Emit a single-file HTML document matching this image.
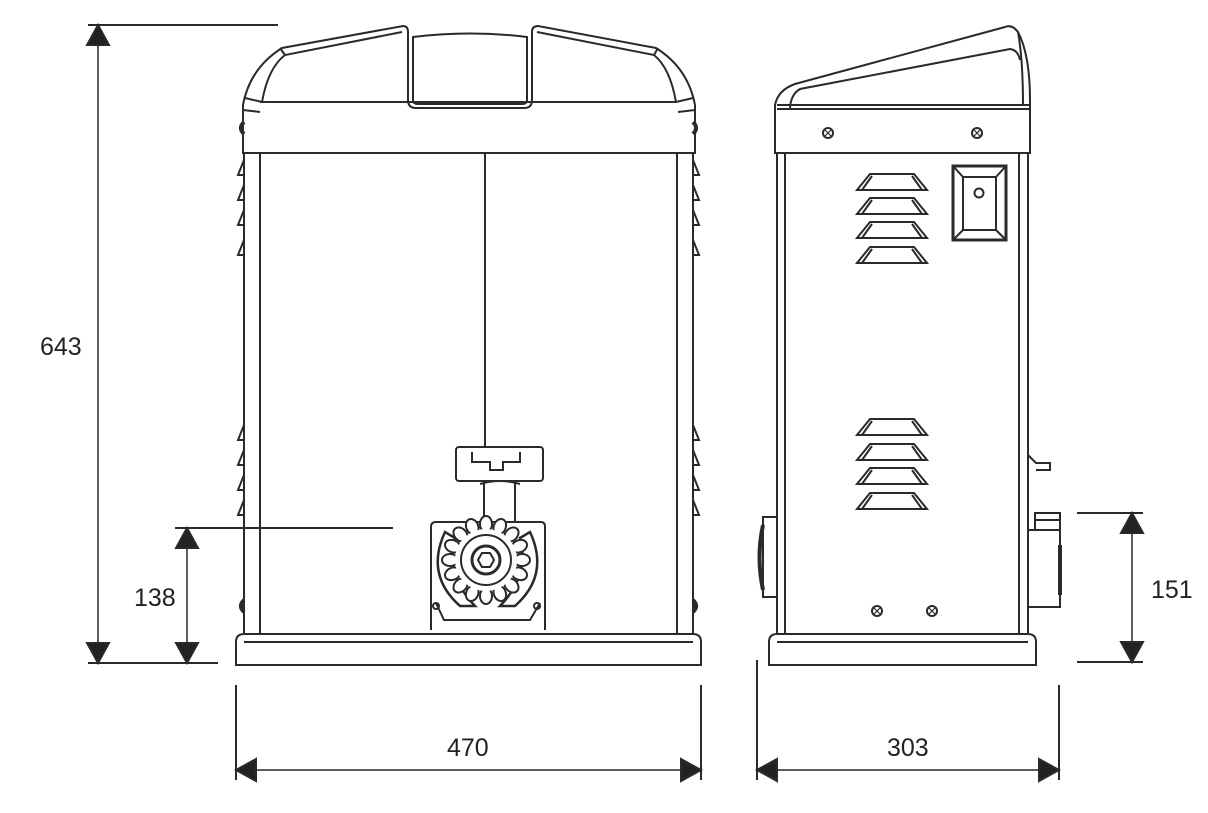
<!DOCTYPE html>
<html><head><meta charset="utf-8"><style>
html,body{margin:0;padding:0;background:#fff;}
svg{display:block}
text{font-family:"Liberation Sans",sans-serif;font-size:25px;fill:#222}
</style></head><body>
<svg width="1208" height="813" viewBox="0 0 1208 813" xmlns="http://www.w3.org/2000/svg">
<g stroke="#2a2a2a" stroke-width="2" fill="none">
<!-- dimension lines -->
<line x1="88" y1="25" x2="278" y2="25"/>
<line x1="88" y1="663" x2="218" y2="663"/>
<path d="M98,27 L98,661" stroke-width="1.5"/>
<path d="M87,45 L98,25 L109,45 Z M87,643 L98,663 L109,643 Z" fill="#222"/>
<line x1="175" y1="528" x2="393" y2="528"/>
<path d="M187,530 L187,661" stroke-width="1.5"/>
<path d="M176,548 L187,528 L198,548 Z M176,643 L187,663 L198,643 Z" fill="#222"/>
<line x1="236" y1="685" x2="236" y2="780"/>
<line x1="701" y1="685" x2="701" y2="780"/>
<line x1="238" y1="770" x2="699" y2="770" stroke-width="1.5"/>
<path d="M256,759 L236,770 L256,781 Z M681,759 L701,770 L681,781 Z" fill="#222"/>
<line x1="757" y1="660" x2="757" y2="780"/>
<line x1="1059" y1="685" x2="1059" y2="780"/>
<line x1="759" y1="770" x2="1057" y2="770" stroke-width="1.5"/>
<path d="M777,759 L757,770 L777,781 Z M1039,759 L1059,770 L1039,781 Z" fill="#222"/>
<line x1="1077" y1="513" x2="1143" y2="513"/>
<line x1="1077" y1="662" x2="1143" y2="662"/>
<line x1="1132" y1="515" x2="1132" y2="660" stroke-width="1.5"/>
<path d="M1121,533 L1132,513 L1143,533 Z M1121,642 L1132,662 L1143,642 Z" fill="#222"/>

<!-- FRONT VIEW -->
<path d="M236,665 L236,642 Q236,634 244,634 L693,634 Q701,634 701,642 L701,665 Z"/>
<line x1="244" y1="642" x2="693" y2="642"/>
<line x1="244" y1="153" x2="244" y2="634"/>
<line x1="260" y1="153" x2="260" y2="634"/>
<line x1="693" y1="153" x2="693" y2="634"/>
<line x1="677" y1="153" x2="677" y2="634"/>
<path d="M243,153 L243,105 Q250,68 282,48 L403,26 Q408,26 408,32 L408,100 Q408,108 416,108 L524,108 Q532,108 532,100 L532,32 Q532,26 538,26 L656,48 Q688,68 695,105 L695,153 Z"/>
<line x1="260" y1="102" x2="676" y2="102"/>
<path d="M262,102 Q268,68 285,55 L402,32 M676,102 Q670,68 654,55 L537,32"/>
<path d="M413,37 Q470,30 527,37 L527,100 Q527,104 522,104 L418,104 Q413,104 413,100 Z"/>
<path d="M243,110 L260,112 M245,98 L262,102 M280,48 L285,55 M658,48 L654,55 M695,110 L678,112 M693,98 L676,102"/>
<line x1="485" y1="153" x2="485" y2="447"/>
<path d="M244,160 L238,175 L244,175 M244,185 L238,200 L244,200 M244,210 L238,225 L244,225 M244,240 L238,255 L244,255 M244,425 L238,440 L244,440 M244,450 L238,465 L244,465 M244,475 L238,490 L244,490 M244,500 L238,515 L244,515"/>
<path d="M693,160 L699,175 L693,175 M693,185 L699,200 L693,200 M693,210 L699,225 L693,225 M693,240 L699,255 L693,255 M693,425 L699,440 L693,440 M693,450 L699,465 L693,465 M693,475 L699,490 L693,490 M693,500 L699,515 L693,515"/>
<!-- gear assembly -->
<rect x="456" y="447" width="87" height="34" rx="3"/>
<path d="M472,452 L472,462 L490,462 L490,470 L503,470 L503,462 L520,462 L520,452"/>
<path d="M484,481 L484,522 M515,481 L515,522 M480,484 Q500,478 520,484"/>
<path d="M431,630 L431,527 Q431,522 436,522 L541,522 Q545,522 545,527 L545,630"/>
<path d="M436,603 L444,620 L530,620 L540,603"/>
<path d="M445,532 Q425,575 460,606 L475,606 Q445,575 455,538 Z" fill="#fff" stroke-width="2.5"/>
<path d="M530,532 Q550,575 515,606 L500,606 Q530,575 520,538 Z" fill="#fff" stroke-width="2.5"/>
<g fill="#fff">
<g transform="translate(486,560)">
<ellipse cx="0" cy="-36" rx="6" ry="8"/>
<ellipse cx="0" cy="-36" rx="6" ry="8" transform="rotate(22.5)"/>
<ellipse cx="0" cy="-36" rx="6" ry="8" transform="rotate(45)"/>
<ellipse cx="0" cy="-36" rx="6" ry="8" transform="rotate(67.5)"/>
<ellipse cx="0" cy="-36" rx="6" ry="8" transform="rotate(90)"/>
<ellipse cx="0" cy="-36" rx="6" ry="8" transform="rotate(112.5)"/>
<ellipse cx="0" cy="-36" rx="6" ry="8" transform="rotate(135)"/>
<ellipse cx="0" cy="-36" rx="6" ry="8" transform="rotate(157.5)"/>
<ellipse cx="0" cy="-36" rx="6" ry="8" transform="rotate(180)"/>
<ellipse cx="0" cy="-36" rx="6" ry="8" transform="rotate(202.5)"/>
<ellipse cx="0" cy="-36" rx="6" ry="8" transform="rotate(225)"/>
<ellipse cx="0" cy="-36" rx="6" ry="8" transform="rotate(247.5)"/>
<ellipse cx="0" cy="-36" rx="6" ry="8" transform="rotate(270)"/>
<ellipse cx="0" cy="-36" rx="6" ry="8" transform="rotate(292.5)"/>
<ellipse cx="0" cy="-36" rx="6" ry="8" transform="rotate(315)"/>
<ellipse cx="0" cy="-36" rx="6" ry="8" transform="rotate(337.5)"/>
<circle r="31" stroke="none"/>
<circle r="25"/>
<circle r="14" stroke-width="3"/>
<path d="M-8,0 L-4,-7 L4,-7 L8,0 L4,7 L-4,7 Z"/>
</g>
</g>
<circle cx="436" cy="606" r="3"/><circle cx="537" cy="606" r="3"/>
<path d="M244,122 Q238,128 244,134 M244,600 Q238,606 244,612 M693,122 Q699,128 693,134 M693,600 Q699,606 693,612" stroke-width="4"/>

<!-- SIDE VIEW -->
<path d="M769,665 L769,642 Q769,634 777,634 L1028,634 Q1036,634 1036,642 L1036,665 Z"/>
<line x1="777" y1="642" x2="1028" y2="642"/>
<line x1="777" y1="153" x2="777" y2="634"/>
<line x1="785" y1="153" x2="785" y2="634"/>
<line x1="1019" y1="153" x2="1019" y2="634"/>
<line x1="1028" y1="153" x2="1028" y2="634"/>
<path d="M775,153 L775,105 Q778,90 795,84 L1005,27 Q1012,24 1018,32 Q1030,55 1030,100 L1030,153 Z"/>
<path d="M777,109 L1029,109 M777,105 L1029,105 M790,110 Q790,95 800,89 L1010,49 Q1018,50 1020,60 M1018,32 Q1023,60 1023,105"/>
<g fill="#fff">
<circle cx="828" cy="133" r="5"/><circle cx="977" cy="133" r="5"/>
<circle cx="877" cy="611" r="5"/><circle cx="932" cy="611" r="5"/>
</g>
<path d="M825,130 L831,136 M831,130 L825,136 M974,130 L980,136 M980,130 L974,136 M874,608 L880,614 M880,608 L874,614 M929,608 L935,614 M935,608 L929,614" stroke-width="1.2"/>
<rect x="953" y="166" width="53" height="74" stroke-width="3"/>
<rect x="963" y="177" width="33" height="53"/>
<path d="M953,166 L963,177 M1006,166 L996,177 M953,240 L963,230 M1006,240 L996,230"/>
<circle cx="979" cy="193" r="4.5"/>
<g id="v">
<path d="M857,190 L870,174 L914,174 L927,190 Z M862,190 L872,176 M922,190 L912,176"/>
</g>
<use href="#v" y="24"/><use href="#v" y="48"/><use href="#v" y="73"/>
<use href="#v" y="245"/><use href="#v" y="270"/><use href="#v" y="294"/><use href="#v" y="319"/>
<rect x="763" y="517" width="14" height="80"/>
<path d="M763,525 Q756,557 763,590" stroke-width="4"/>
<rect x="1028" y="530" width="32" height="77"/>
<rect x="1035" y="513" width="25" height="17"/>
<line x1="1035" y1="520" x2="1060" y2="520"/>
<path d="M1060,545 L1060,595" stroke-width="4"/>
<path d="M1028,455 L1036,463 L1050,463 L1050,470 L1036,470"/>
</g>
<text x="40" y="355">643</text>
<text x="134" y="606">138</text>
<text x="447" y="756">470</text>
<text x="887" y="756">303</text>
<text x="1151" y="598">151</text>
</svg>
</body></html>
